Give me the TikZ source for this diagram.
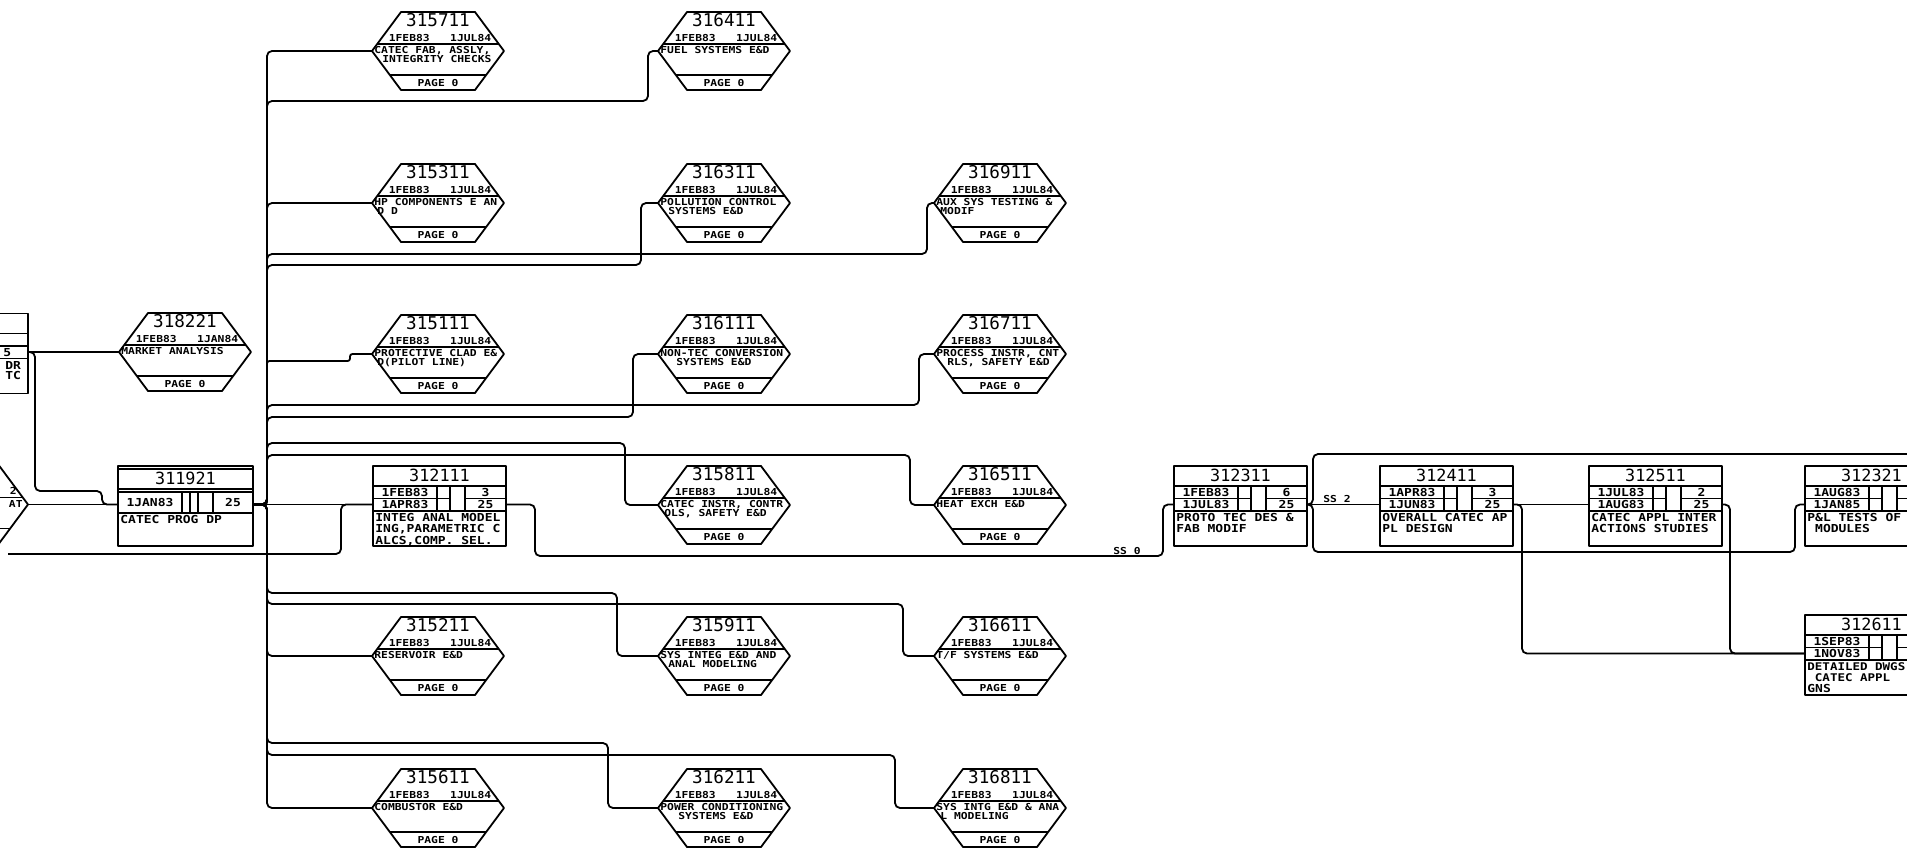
\documentclass[tikz,border=0pt]{standalone}
\usepackage{fontspec}
\usetikzlibrary{calc}
\newfontfamily\monoid{DejaVu Sans Mono}
\newfontfamily\monosm[FakeStretch=1.18]{DejaVu Sans Mono}
\newcommand\fid{\monoid\fontsize{8.8pt}{9pt}\selectfont}
\newcommand\fbid{\monoid\fontsize{8.4pt}{9pt}\selectfont}
\newcommand\fhx{\monosm\bfseries\fontsize{4.8pt}{4.5pt}\selectfont}
\newcommand\fbx{\monosm\bfseries\fontsize{5.5pt}{5.25pt}\selectfont}
\newcommand\fbxs{\fontsize{5.3pt}{5.25pt}\selectfont}
\newcommand\dts[2]{#1\ \ \ #2}
\tikzset{
  outl/.style={line width=0.9pt, line join=round},
  conn/.style={line width=0.9pt, rounded corners=2.5pt},
  shapeanchor/.style={draw=none, inner sep=0pt, outer sep=0pt},
  idt/.style={font=\fid, inner sep=0pt, anchor=base},
  bidt/.style={font=\fbid, inner sep=0pt, anchor=base},
  hxt/.style={font=\fhx, inner sep=0pt, anchor=base west},
  hxc/.style={font=\fhx, inner sep=0pt, anchor=base},
  bxt/.style={font=\fbx, inner sep=0pt, anchor=base},
  bxd/.style={font=\fbx, inner sep=0pt, anchor=base west},
}
% hexagon: name, x, y, id, dates, line1, line2, x of line2
\newcommand\hexa[8]{%
  \node[shapeanchor, minimum width=66pt, minimum height=39pt] (#1) at (#2,#3) {};
  \begin{scope}[shift={(#2,#3)}]
    \draw[outl] (-66,0) -- (-37,-39) -- (37,-39) -- (66,0) -- (37,39) -- (-37,39) -- cycle;
    \draw[outl] (-60.8,-7) -- (60.8,-7);
    \draw[outl] (-48.2,24) -- (48.2,24);
    \node[idt] (#1-id) at (0,-24.5) {#4};
    \node[hxc] (#1-dt) at (2,-9.5) {#5};
    \node[hxt] (#1-a) at (-64,2.5) {#6};
    \node[hxt] (#1-b) at (#8,11) {#7};
    \node[hxc] (#1-pg) at (0,35.5) {PAGE 0};
  \end{scope}}
% box: name, x, y (top left), id, date1, date2, num1, num2, description lines
\newcommand\boxn[9]{%
  \node[shapeanchor, minimum width=66.5pt, minimum height=40pt, anchor=north west] (#1) at (#2,#3) {};
  \begin{scope}[shift={(#2,#3)}]
    \coordinate (#1-in) at (0,38.5);
    \coordinate (#1-out) at (133,38.5);
    \draw[outl] (0,0) rectangle (133,80);
    \draw[outl] (0,20) -- (133,20);
    \draw[outl] (0,32.5) -- (77,32.5) (92,32.5) -- (133,32.5);
    \draw[outl] (0,45) -- (133,45);
    \draw[outl] (64,20) -- (64,45) (77,20) -- (77,45) (92,20) -- (92,45);
    \node[bidt] (#1-id) at (66.5,15.5) {#4};
    \node[bxt] (#1-d1) at (32,30) {#5};
    \node[bxt] (#1-d2) at (32,42.5) {#6};
    \node[bxt] (#1-n1) at (112.5,30) {#7};
    \node[bxt] (#1-n2) at (112.5,42.5) {#8};
    \node[bxd] (#1-ds) at (2,55.5) {\begin{tabular}[t]{@{}l@{}}#9\end{tabular}};
  \end{scope}}
\begin{document}
\begin{tikzpicture}[x=0.5pt,y=-0.5pt]
\useasboundingbox (0,0) rectangle (1907,847);
\fill[white] (0,0) rectangle (1907,847);
\clip (0,0) rectangle (1907,847);

% ---------- hexagons ----------
\hexa{h315711}{438}{51}{315711}{\dts{1FEB83}{1JUL84}}{CATEC FAB, ASSLY,}{INTEGRITY CHECKS}{-56}
\hexa{h316411}{724}{51}{316411}{\dts{1FEB83}{1JUL84}}{FUEL SYSTEMS E\&D}{}{-60}
\hexa{h315311}{438}{203}{315311}{\dts{1FEB83}{1JUL84}}{HP COMPONENTS E AN}{D D}{-61}
\hexa{h316311}{724}{203}{316311}{\dts{1FEB83}{1JUL84}}{POLLUTION CONTROL}{SYSTEMS E\&D}{-56}
\hexa{h316911}{1000}{203}{316911}{\dts{1FEB83}{1JUL84}}{AUX SYS TESTING \&}{MODIF}{-60}
\hexa{h318221}{185}{352}{318221}{\dts{1FEB83}{1JAN84}}{MARKET ANALYSIS}{}{-60}
\hexa{h315111}{438}{354}{315111}{\dts{1FEB83}{1JUL84}}{PROTECTIVE CLAD E\&}{D(PILOT LINE)}{-61}
\hexa{h316111}{724}{354}{316111}{\dts{1FEB83}{1JUL84}}{NON-TEC CONVERSION}{SYSTEMS E\&D}{-48}
\hexa{h316711}{1000}{354}{316711}{\dts{1FEB83}{1JUL84}}{PROCESS INSTR, CNT}{RLS, SAFETY E\&D}{-53}
\hexa{h315811}{724}{505}{315811}{\dts{1FEB83}{1JUL84}}{CATEC INSTR, CONTR}{OLS, SAFETY E\&D}{-60}
\hexa{h316511}{1000}{505}{316511}{\dts{1FEB83}{1JUL84}}{HEAT EXCH E\&D}{}{-60}
\hexa{h315211}{438}{656}{315211}{\dts{1FEB83}{1JUL84}}{RESERVOIR E\&D}{}{-60}
\hexa{h315911}{724}{656}{315911}{\dts{1FEB83}{1JUL84}}{SYS INTEG E\&D AND}{ANAL MODELING}{-56}
\hexa{h316611}{1000}{656}{316611}{\dts{1FEB83}{1JUL84}}{T/F SYSTEMS E\&D}{}{-60}
\hexa{h315611}{438}{808}{315611}{\dts{1FEB83}{1JUL84}}{COMBUSTOR E\&D}{}{-60}
\hexa{h316211}{724}{808}{316211}{\dts{1FEB83}{1JUL84}}{POWER CONDITIONING}{SYSTEMS E\&D}{-46}
\hexa{h316811}{1000}{808}{316811}{\dts{1FEB83}{1JUL84}}{SYS INTG E\&D \& ANA}{L MODELING}{-60}

% ---------- partial hexagon at left ----------
\node[shapeanchor, minimum width=66pt, minimum height=39pt] (hL) at (-38,504.5) {};
\draw[outl] (-20,465.5) -- (-1,465.5) -- (hL.east) -- (-1,543.5) -- (-20,543.5);
\draw[outl] (-5,497.5) -- (22.8,497.5);
\draw[outl] (-5,528.5) -- (9.8,528.5);
\node[font=\fhx, inner sep=0pt, anchor=base east] (hL-dt) at (17,494.5) {2};
\node[font=\fhx, inner sep=0pt, anchor=base east] (hL-a) at (23,507) {AT};

% ---------- boxes ----------
\boxn{bL}{-105}{313.5}{}{}{}{}{}{}
\node[bxd] (bL-n2) at (3,356) {5};
\node[bxd] (bL-t1) at (5,369) {DR};
\node[bxd] (bL-t2) at (5,379.5) {TC};

\node[shapeanchor, minimum width=67.5pt, minimum height=40pt, anchor=north west] (b311921) at (118,466) {};
\coordinate (b311921-in) at (118,504.5);
\coordinate (b311921-out) at (253,504.5);
\draw[outl] (118,466) rectangle (253,546);
\draw[outl] (118,469) -- (253,469);
\draw[outl] (118,489) -- (253,489) (118,492) -- (253,492);
\draw[outl] (118,513) -- (253,513);
\draw[outl] (182,492) -- (182,513) (190,492) -- (190,513) (198,492) -- (198,513) (213,492) -- (213,513);
\node[bidt] (b311921-id) at (185.5,484.5) {311921};
\node[bxt] (b311921-d1) at (150,506.5) {1JAN83};
\node[bxt] (b311921-n1) at (233,506.5) {25};
\node[bxd] (b311921-ds) at (120,523) {CATEC PROG DP};

\boxn{b312111}{373}{466}{312111}{1FEB83}{1APR83}{3}{25}{INTEG ANAL MODEL\\ING,PARAMETRIC C\\ALCS,COMP. SEL.}
\boxn{b312311}{1174}{466}{312311}{1FEB83}{1JUL83}{6}{25}{PROTO TEC DES \&\\FAB MODIF}
\boxn{b312411}{1380}{466}{312411}{1APR83}{1JUN83}{3}{25}{OVERALL CATEC AP\\PL DESIGN}
\boxn{b312511}{1589}{466}{312511}{1JUL83}{1AUG83}{2}{25}{CATEC APPL INTER\\ACTIONS STUDIES}
\boxn{b312321}{1805}{466}{312321}{1AUG83}{1JAN85}{}{}{P\&L TESTS OF\\\ MODULES}
\boxn{b312611}{1805}{615}{312611}{1SEP83}{1NOV83}{}{}{\fbxs DETAILED DWGS\\\fbxs\ CATEC APPL\\GNS}

% ---------- connectors ----------
\coordinate (sp) at (267,504.5);
\coordinate (lb) at (8,554);
\coordinate (rt) at (1907,454);

\draw[conn] (bL-out) -- (h318221.west);
\draw[conn] (bL-out) -- (35,352) |- (102,491) |- (b311921-in);
\draw[conn] (hL.east) -- (b311921-in);
\draw[conn] (lb) -- (341,554) |- (b312111-in);
\draw[conn] (b311921-out) -- (b312111-in);

\draw[conn] (b311921-out) -- (sp) |- (h315711.west);
\draw[conn] (b311921-out) -- (sp) |- (648,101) |- (h316411.west);
\draw[conn] (b311921-out) -- (sp) |- (h315311.west);
\draw[conn] (b311921-out) -- (sp) |- (927,254) |- (h316911.west);
\draw[conn] (b311921-out) -- (sp) |- (641,265) |- (h316311.west);
\draw[conn, rounded corners=1.2pt] (b311921-out) -- (sp) |- (350,361) |- (h315111.west);
\draw[conn] (b311921-out) -- (sp) |- (919,405) |- (h316711.west);
\draw[conn] (b311921-out) -- (sp) |- (633,417) |- (h316111.west);
\draw[conn] (b311921-out) -- (sp) |- (625,443) |- (h315811.west);
\draw[conn] (b311921-out) -- (sp) |- (910,455) |- (h316511.west);
\draw[conn] (b311921-out) -- (sp) |- (617,593) |- (h315911.west);
\draw[conn] (b311921-out) -- (sp) |- (903,604) |- (h316611.west);
\draw[conn] (b311921-out) -- (sp) |- (h315211.west);
\draw[conn] (b311921-out) -- (sp) |- (608,743) |- (h316211.west);
\draw[conn] (b311921-out) -- (sp) |- (895,755) |- (h316811.west);
\draw[conn] (b311921-out) -- (sp) |- (h315611.west);

\draw[conn] (b312111-out) -- (535,504.5) |- (1163,556) |- (b312311-in);
\node[hxt] (ss0) at (1113,554) {SS 0};
\draw[conn] (b312311-out) -- (1313,504.5) |- (rt);
\draw[conn] (b312311-out) -- (1313,504.5) |- (1795,552) |- (b312321-in);
\draw[conn] (b312311-out) -- (b312411-in);
\node[hxt] (ss2) at (1323,502) {SS 2};
\draw[conn] (b312411-out) -- (b312511-in);
\draw[conn] (b312411-out) -- (1522,504.5) |- (b312611-in);
\draw[conn] (b312511-out) -- (1730,504.5) |- (b312611-in);
\end{tikzpicture}
\end{document}
